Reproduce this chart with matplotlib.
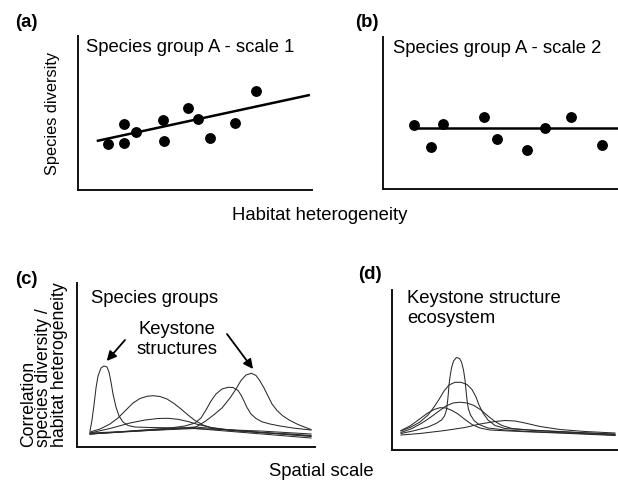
import matplotlib
matplotlib.use("Agg")
import matplotlib.pyplot as plt

plt.rcParams['font.family'] = ['Liberation Sans', 'DejaVu Sans']

W, H = 618, 491

# ---------------- data ----------------
# (a) species group A - scale 1 (0-100 units)
a_x = [13.1, 19.8, 19.8, 24.9, 36.3, 36.9, 47.0, 51.3, 56.5, 67.2, 76.0]
a_y = [29.6, 42.7, 30.5, 37.7, 45.3, 31.4, 53.3, 45.9, 33.4, 43.5, 64.4]
a_fit_x = [8.2, 99.1]
a_fit_y = [31.6, 61.6]

# (b) species group A - scale 2 (0-100 units)
b_x = [13.1, 20.3, 25.3, 42.9, 48.6, 61.4, 68.9, 79.8, 93.1]
b_y = [42.2, 27.9, 42.8, 47.2, 32.8, 25.7, 39.9, 47.2, 29.0]
b_fit_x = [13.5, 100.0]
b_fit_y = [39.9, 39.9]

# (c) species groups: correlation vs spatial scale (arbitrary units)
c1_x = [13, 15, 17, 19, 21, 24, 27, 30, 32, 34, 36, 39, 42, 46, 51, 58, 73, 103, 143, 183, 234]
c1_y = [16, 27, 42, 59, 71, 79, 81, 80, 75, 65, 53, 40, 31, 25, 21.5, 20, 19.5, 19, 17.5, 16, 13]
c2_x = [13, 23, 33, 41, 49, 56, 63, 70, 76, 83, 90, 97, 104, 111, 118, 126, 135, 153, 183, 213, 234]
c2_y = [15, 18, 23, 29, 37, 44, 48.5, 50.7, 51.3, 50.5, 48, 43.5, 38, 32, 26.5, 22, 19, 16.5, 14.5, 13, 11.5]
c3_x = [13, 33, 53, 68, 81, 91, 101, 111, 121, 133, 153, 183, 213, 234]
c3_y = [14, 18.5, 24, 27, 28.5, 28.7, 27.7, 25.5, 22.5, 19.7, 17, 14.5, 12.5, 11]
c4_x = [13, 53, 93, 108, 118, 124, 129, 134, 139, 145, 151, 156, 161, 164, 167, 170, 174,
        179, 185, 193, 203, 218, 234]
c4_y = [13, 16, 19, 21, 24, 29, 37, 46, 53, 58, 59.7, 59.5, 56.5, 52, 46, 39.5, 33,
        28.5, 25.2, 23, 21, 18.7, 17]
c5_x = [13, 63, 103, 118, 128, 136, 145, 153, 159, 164, 169, 174.5, 179, 183, 187, 191, 195,
        200, 206, 213, 221, 234]
c5_y = [13, 16, 18.5, 19.5, 25.5, 31.5, 39, 49, 58, 66.5, 72, 73.7, 71.5, 66, 59, 51, 43,
        36.5, 31, 26.5, 22.5, 17.5]
c6_x = [13, 118, 234]
c6_y = [13, 20, 10.5]
c7_x = [13, 118, 234]
c7_y = [14, 18.5, 9]
c_curves = [(c1_x, c1_y), (c2_x, c2_y), (c3_x, c3_y), (c4_x, c4_y),
            (c5_x, c5_y), (c6_x, c6_y), (c7_x, c7_y)]

# (d) keystone structure ecosystem (arbitrary units)
d1_x = [9, 23, 36, 44, 49.5, 52.5, 54.5, 55.5, 56.3, 57, 58, 59.5, 61.5, 64.5, 67.5, 69.5,
        71.5, 73, 74, 75, 76.3, 78.5, 82, 87, 96, 113, 138, 178, 223]
d1_y = [16.5, 19.5, 23, 26.5, 30, 34, 40, 48, 56, 65, 73, 82, 89, 92.5, 91.5, 88,
        80, 70, 60, 50, 41.5, 35, 29.5, 25.5, 22, 20, 18.5, 17, 15]
d2_x = [9, 19, 28, 36, 42, 47, 52, 57, 63, 69, 75, 80, 84, 87, 91, 96, 103, 113, 138, 178, 223]
d2_y = [19, 23, 28, 35, 43, 50.5, 59, 65, 67.7, 67.7, 65.5, 60.5, 53, 45, 37, 30, 24.5,
        21.5, 20, 18, 15.5]
d3_x = [9, 20, 30, 39, 47, 54, 61, 68, 75, 82, 89, 96, 103, 110, 120, 143, 183, 223]
d3_y = [17.5, 21.5, 27, 33, 39, 44, 47, 47.8, 47, 44.5, 40, 34, 28.5, 24.5, 21.5, 19.5, 17.5, 16]
d4_x = [9, 18, 27, 35, 42, 48, 54, 60, 66, 73, 80, 88, 98, 128, 178, 223]
d4_y = [19.5, 24, 30.5, 36.5, 40.5, 42.3, 42, 39.5, 36, 30.5, 25.5, 22, 20, 18.5, 16.5, 14.5]
d5_x = [9, 28, 53, 73, 88, 103, 113, 123, 133, 148, 168, 193, 223]
d5_y = [15, 16.5, 19.5, 22.5, 26, 28.5, 29.5, 29, 27, 23.5, 20.5, 18.5, 17]
d_curves = [(d1_x, d1_y), (d2_x, d2_y), (d3_x, d3_y), (d4_x, d4_y), (d5_x, d5_y)]

# arrows in (c): (tail, head)
c_arrows = [((48, 107), (29.7, 86)), ((150, 113), (176, 78))]

# y-label lines of (c)
c_ylabel_lines = ['Correlation', 'species diversity /', 'habitat heterogeneity']

# ---------------- figure ----------------
fig = plt.figure(figsize=(W / 100, H / 100), dpi=100)


def add_ax(left, top, right, bottom):
    return fig.add_axes([left / W, 1 - bottom / H, (right - left) / W, (bottom - top) / H])


def style(ax, lw=1.4):
    for s in ['top', 'right']:
        ax.spines[s].set_visible(False)
    for s in ['left', 'bottom']:
        ax.spines[s].set_linewidth(lw)
        ax.spines[s].set_color('#111111')
    ax.set_xticks([])
    ax.set_yticks([])
    ax.patch.set_alpha(0)


def ftext(x, y, s, **kw):
    fig.text(x / W, 1 - y / H, s, **kw)


FS = 13.3

# (a)
ax_a = add_ax(77.5, 36, 312, 189.5)
style(ax_a)
ax_a.set_xlim(0, 100)
ax_a.set_ylim(0, 100)
ax_a.plot(a_fit_x, a_fit_y, color='black', lw=1.8, solid_capstyle='butt')
ax_a.plot(a_x, a_y, 'o', color='black', ms=6.8, clip_on=False)

# (b)
ax_b = add_ax(383.3, 36.7, 618, 189)
style(ax_b)
ax_b.set_xlim(0, 100)
ax_b.set_ylim(0, 100)
ax_b.plot(b_fit_x, b_fit_y, color='black', lw=1.8, solid_capstyle='butt')
ax_b.plot(b_x, b_y, 'o', color='black', ms=6.8, clip_on=False)

# (c)
ax_c = add_ax(77, 283, 315, 447)
style(ax_c)
ax_c.set_xlim(0, 238)
ax_c.set_ylim(0, 164)
for cx, cy in c_curves:
    ax_c.plot(cx, cy, color='#2a2a2a', lw=0.75)
for tail, head in c_arrows:
    ax_c.annotate('', xy=head, xytext=tail,
                  arrowprops=dict(arrowstyle='-|>', color='black', lw=1.3,
                                  mutation_scale=14, shrinkA=0, shrinkB=0))

# (d)
ax_d = add_ax(392, 290, 618, 450)
style(ax_d)
ax_d.set_xlim(0, 226)
ax_d.set_ylim(0, 160)
for dx, dy in d_curves:
    ax_d.plot(dx, dy, color='#2a2a2a', lw=0.75)

# texts
ftext(15, 27, '(a)', fontsize=FS, fontweight='bold', ha='left', va='baseline')
ftext(355, 27, '(b)', fontsize=FS, fontweight='bold', ha='left', va='baseline')
ftext(15, 284, '(c)', fontsize=FS, fontweight='bold', ha='left', va='baseline')
ftext(358, 279, '(d)', fontsize=FS, fontweight='bold', ha='left', va='baseline')

ftext(86, 39, 'Species group A - scale 1', fontsize=FS, ha='left', va='top')
ftext(393, 40, 'Species group A - scale 2', fontsize=FS, ha='left', va='top')
ftext(91, 290, 'Species groups', fontsize=FS, ha='left', va='top')
ftext(177, 321, 'Keystone\nstructures', fontsize=FS, ha='center', va='top',
      multialignment='center')
ftext(407, 290, 'Keystone structure\necosystem', fontsize=FS, ha='left', va='top',
      multialignment='left')

ftext(56.5, 175, 'Species diversity', fontsize=11.8, rotation=90, rotation_mode='anchor',
      ha='left', va='baseline')
for xb, line in zip([33, 48.5, 64], c_ylabel_lines):
    ftext(xb, 447, line, fontsize=12.7, rotation=90, rotation_mode='anchor',
          ha='left', va='baseline')

ftext(320, 220, 'Habitat heterogeneity', fontsize=FS, ha='center', va='baseline')
ftext(321, 476, 'Spatial scale', fontsize=FS, ha='center', va='baseline')

fig.savefig('out.png', dpi=100)
